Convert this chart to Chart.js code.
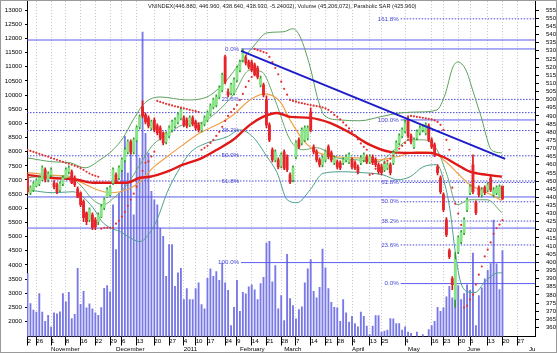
<!DOCTYPE html>
<html><head><meta charset="utf-8">
<script src="https://cdn.jsdelivr.net/npm/chart.js@4/dist/chart.umd.min.js"></script>
<style>html,body{margin:0;padding:0;background:#fff}canvas{display:block}</style>
</head><body>
<canvas id="c" width="557" height="353"></canvas>
<script>
// ---------- DATA ----------
const titleText = 'VNINDEX(446.880, 446.960, 438.640, 438.930, -5.24002), Volume (45,206,072), Parabolic SAR (425.960)';
const tickPos = [0,3,8,13,18,23,28,32,37,43,48,53,57,61,67,71,76,81,86,91,96,101,105,110,116,120,128,137,141,146,150,156,161,166];
const tickLabels = ['2','26','1','8','16','22','29','6','13','20','27','4','10','17','24','9','14','21','28','7','14','21','28','4','13','25','4','16','23','30','6','13','20','27'];
const monthPos = [8,30,53,72,87,110,129,149,170];
const monthLabels = ['November','December','2011','February','March','April','May','June','Ju'];
const priceTicks = []; for (let v = 360; v <= 555; v += 5) priceTicks.push(v);
const volTicks = []; for (let v = 2000; v <= 13000; v += 500) volTicks.push(v);

const opens = [452.6,442.8,444.6,447.1,448.3,450.8,456.9,450.8,453.8,448.9,
447.7,444.6,448.3,452.0,455.7,455.7,452.0,445.2,442.8,437.3,
430.5,426.2,429.3,426.2,425.0,428.1,433.6,440.3,441.6,448.9,
453.8,452.0,456.9,463.0,467.9,474.1,467.9,475.3,483.3,495.5,
490.6,488.8,482.6,487.5,483.9,482.6,479.6,474.1,477.7,481.4,
483.9,486.3,488.8,488.8,487.5,484.5,488.8,486.3,484.5,481.4,
485.1,487.5,491.2,495.5,496.7,501.6,505.9,526.2,504.7,504.1,
504.1,512.1,518.2,524.3,525.6,523.1,523.1,521.3,519.4,509.0,
509.0,499.8,484.5,469.2,463.0,463.0,459.3,467.9,464.9,453.8,
450.8,464.9,475.3,473.4,475.3,476.5,492.4,471.0,467.9,463.0,
460.0,463.0,471.0,467.3,461.2,461.8,461.2,461.2,463.0,461.8,
463.0,461.2,458.7,461.2,463.0,464.9,461.8,464.9,463.0,460.0,
458.7,456.9,458.1,460.0,461.2,467.9,473.4,477.7,480.8,487.5,
477.7,471.0,476.5,479.6,481.4,479.6,483.9,475.3,472.2,458.7,
452.0,441.6,426.2,407.2,390.1,377.2,406.6,412.7,418.3,432.4,
442.8,460.0,436.7,445.9,441.6,445.9,444.6,452.0,441.6,442.8,
440.3,446.88];
const highs = [454.4,447.1,449.5,451.4,453.2,459.3,458.1,455.7,458.1,450.2,
448.9,449.5,453.2,458.1,459.3,456.9,453.2,446.5,443.4,438.5,
431.1,433.6,430.5,427.5,430.5,435.4,439.7,445.9,447.1,458.1,
455.1,459.3,464.2,470.4,475.3,475.3,476.5,483.9,490.6,499.2,
491.8,490.0,487.5,488.8,485.1,483.9,480.2,480.2,483.9,487.5,
488.8,491.8,494.9,490.0,488.8,490.0,490.0,487.5,485.7,485.7,
490.0,493.1,497.4,501.0,502.9,508.4,516.3,527.4,506.6,510.2,
513.3,520.6,524.3,531.1,527.4,524.3,524.3,522.5,520.6,514.5,
510.2,502.3,485.7,470.4,469.2,464.2,467.3,469.2,466.1,455.1,
459.3,474.7,476.5,482.6,483.9,483.9,494.9,472.2,469.2,464.2,
465.5,469.2,472.2,468.5,465.5,463.0,462.4,464.2,466.1,467.3,
464.2,462.4,459.9,465.5,467.3,466.1,466.1,466.1,464.2,461.2,
460.0,462.4,461.2,461.2,468.5,474.7,479.0,482.6,487.5,490.0,
479.0,476.5,481.4,483.9,484.5,485.7,485.1,476.5,473.4,460.0,
453.2,442.8,427.5,408.4,391.3,406.0,416.4,419.5,427.5,439.7,
447.7,466.1,437.9,447.1,445.9,447.1,448.9,453.8,445.9,447.1,
447.7,446.96];
const lows = [442.2,441.6,443.4,446.5,447.1,450.2,449.5,449.5,452.6,445.2,
442.2,443.4,447.1,451.4,454.4,448.3,446.5,439.7,434.2,425.0,
423.2,425.0,420.1,420.1,423.2,427.5,432.4,439.7,440.9,447.7,
448.3,450.8,455.7,461.8,466.7,466.7,466.7,474.1,482.0,488.8,
485.1,482.6,481.4,480.2,478.3,475.3,472.2,472.8,476.5,480.2,
482.6,485.1,487.5,483.3,482.6,483.3,483.9,481.4,480.2,480.2,
483.9,486.3,490.0,494.3,495.5,500.4,504.7,509.6,501.6,502.9,
502.9,510.8,517.0,523.1,521.3,518.8,517.0,514.5,512.7,507.8,
501.6,482.6,474.1,461.8,461.8,457.5,458.1,456.9,455.7,448.3,
449.5,463.6,469.8,472.2,474.1,475.3,480.2,466.7,461.8,458.7,
458.7,461.8,463.6,461.8,460.0,457.5,456.9,460.0,461.8,460.6,
457.5,456.9,454.4,460.0,461.8,460.6,460.6,460.0,458.7,454.4,
453.8,455.7,456.9,453.8,460.0,466.7,472.2,476.5,479.6,476.5,
472.8,469.8,475.3,478.3,480.2,478.3,474.1,469.8,464.9,453.8,
442.2,431.1,415.8,402.3,383.3,372.3,405.4,411.5,417.0,431.1,
441.6,442.2,429.3,440.3,440.3,441.6,443.4,443.4,440.3,441.6,
439.7,438.64];
const closes = [443.4,445.9,448.3,450.2,452.0,458.1,450.8,454.4,456.9,446.5,
443.4,448.3,452.0,456.9,458.1,448.9,447.7,440.3,435.4,427.5,
425.0,432.4,421.3,422.0,429.3,434.2,438.5,444.6,445.9,456.9,
449.5,458.1,463.0,469.2,474.1,467.9,475.3,482.6,489.4,490.0,
486.3,483.9,486.3,481.4,479.6,476.5,473.4,479.0,482.6,486.3,
487.5,490.6,493.7,484.5,483.9,488.8,485.1,482.6,481.4,484.5,
488.8,491.8,496.1,499.8,501.6,507.2,515.1,510.8,502.9,509.0,
512.1,519.4,523.1,529.2,522.5,520.0,518.2,515.1,513.9,512.7,
502.9,484.5,475.3,463.0,467.9,458.7,466.1,458.1,456.9,449.5,
458.1,473.4,471.0,481.4,482.6,482.6,481.4,467.9,463.0,460.0,
464.2,467.9,464.9,463.0,464.2,458.7,458.1,463.0,464.9,466.1,
458.7,458.1,455.7,464.2,466.1,461.8,464.9,461.2,460.0,455.7,
455.1,461.2,460.0,455.1,467.3,473.4,477.7,481.4,485.7,477.7,
474.1,475.3,480.2,482.6,483.3,484.5,475.3,471.0,466.1,455.1,
443.4,432.4,417.0,403.5,386.4,401.7,415.2,418.3,426.2,438.5,
446.5,443.4,430.5,441.6,444.6,442.8,447.7,444.6,444.6,445.9,
446.5,438.93];
const volumes = [3692,2635,2400,2330,2987,2330,2010,2222,1800,2305,
2270,2340,2987,2694,3033,2106,2258,3880,2610,3070,
2482,2623,2446,2305,2222,2493,3176,3270,3047,6125,
4539,6539,7651,8540,7240,8065,5772,8361,7771,12224,
8650,7945,6594,6300,6125,5300,5007,3600,4715,4715,
3247,3717,3880,2775,3164,2775,2775,3164,3365,2600,
2446,3527,3859,3600,3765,3458,4068,3365,3105,1859,
2505,3458,2364,3035,2975,3223,3294,3117,2775,3340,
3562,4770,4830,3400,3973,2446,2916,2035,4374,2810,
2564,2094,2423,2517,3365,3858,4185,3070,2834,3211,
4563,3893,3164,2681,2505,2482,2011,2776,2305,1976,
2187,1930,1812,2330,2187,1835,1540,1835,2211,2211,
1625,1660,1695,2106,2094,1930,1930,1695,1812,1625,
1580,1450,1625,1450,1540,1450,1717,1860,2011,2505,
2364,2482,2870,3247,2834,4150,3270,2776,2987,3294,
3105,4420,1860,2916,3188,3505,3811,4045,5580,4035,
3129,4504];
const sar = [469.2,468.5,467.9,467.3,466.7,466.1,465.5,464.9,464.2,463.6,
463.0,462.4,461.8,461.2,460.6,460.0,459.3,458.7,457.9,456.9,
455.7,454.6,453.8,453.2,452.6,420.7,421.3,421.3,421.3,421.3,
423.8,425.6,428.1,431.1,434.8,438.5,442.2,446.5,451.4,456.3,
461.2,462.0,465.0,468.0,499.2,498.6,498.0,497.4,496.9,496.4,
495.9,495.5,495.1,494.6,494.2,493.7,493.3,492.9,492.4,469.2,
470.4,471.6,473.4,475.3,477.7,480.2,483.3,486.9,490.0,492.4,
494.3,496.7,499.8,503.5,507.8,511.4,513.9,531.1,530.5,529.9,
529.2,528.6,526.2,523.1,519.4,515.5,511.0,506.6,503.0,499.8,
499.2,498.7,498.2,497.8,497.4,497.0,496.7,496.3,496.0,495.7,
495.2,494.6,493.7,492.4,490.6,489.4,487.8,486.0,484.2,482.3,
480.2,478.0,475.6,473.1,471.0,469.2,453.8,454.4,457.5,458.7,
459.9,461.2,462.4,463.6,465.5,467.3,469.8,471.6,473.4,475.3,
490.0,489.7,489.4,489.1,488.8,488.5,488.2,487.8,487.2,486.3,
484.5,481.4,475.3,469.2,445.9,436.1,430.0,423.0,372.3,373.5,
377.2,380.2,386.4,392.5,397.5,403.7,407.8,412.3,417.6,421.0,
423.2,425.96];

// indicator lines read at points [day index, price]
const maLong = [[0,453.8],[7.6,452.0],[16.8,450.8],[22.2,448.9],[28,448.9],[33.7,448.9],[38.1,452.0],[41.5,452.6],[47.3,455.7],[52.7,460.0],[58.5,463.6],[64.2,469.2],[69.7,475.3],[75.4,484.5],[79.8,489.4],[84.6,491.8],[89,489.4],[95.8,488.8],[102.5,485.7],[109.3,479.6],[116.1,472.2],[122.9,467.9],[129.7,467.3],[136.4,467.3],[140.8,464.9],[145.6,460.0],[150,455.7],[155.8,453.8],[160.8,452.6]];
const maMid = [[0,455.1],[7.6,453.8],[13.4,452.6],[17.8,449.5],[23.6,444.6],[28,442.8],[33.7,444.6],[38.1,449.5],[42.5,458.1],[47.3,464.9],[52.7,472.2],[58.5,479.6],[64.2,484.5],[69.7,490.6],[75.4,499.8],[80.5,503.5],[85.6,498.7],[89,487.5],[93.4,475.3],[98.1,467.9],[104.9,464.9],[111.7,464.2],[118.5,463.0],[125.3,464.9],[132,467.9],[137.5,467.3],[142.2,461.2],[145.6,455.1],[150,447.7],[155.8,442.8],[160.8,438.0]];
const maShort = [[0,452.0],[7.6,453.2],[13.4,453.2],[17.8,447.7],[22.2,438.5],[25.6,435.4],[29.7,440.3],[33.7,447.7],[38.1,460.0],[42.5,472.2],[47.3,478.3],[52.7,484.5],[58.5,485.7],[64.2,492.4],[69.7,502.9],[75.4,518.2],[79.5,517.0],[83.9,499.8],[89,475.3],[93.4,469.2],[98.1,470.4],[104.9,464.2],[111.7,463.0],[118.5,461.8],[125.3,470.4],[129.7,475.3],[134.1,475.3],[138.8,469.2],[142.2,453.8],[145.6,435.4],[150,438.5],[155.8,438.5],[160.8,430.5]];
const bbUpper = [[0,464.2],[8.6,461.8],[14.4,461.2],[19.5,458.1],[24.6,463.0],[29,469.2],[32.4,476.5],[35.8,487.5],[39.8,498.0],[44.9,501.6],[54.1,499.8],[60.8,501.6],[67.6,512.1],[72,522.5],[76.4,532.3],[81.2,541.0],[86.6,541.6],[90,543.5],[92.4,538.6],[95.8,520.0],[98.5,499.8],[100.8,490.0],[105.9,487.5],[112.7,487.0],[119.5,489.4],[126.3,491.8],[133.1,492.4],[138.8,493.7],[141.5,502.9],[144.2,520.0],[145.9,523.1],[148.6,518.2],[151,505.3],[152.7,495.5],[154.1,487.5],[155.4,478.3],[156.8,470.4],[158.5,467.9],[160.8,467.3]];
const bbLower = [[0,444.6],[8.6,442.8],[15.4,443.4],[22.2,433.6],[25.3,425.0],[28,421.3],[31.4,418.9],[34.7,415.2],[38.1,412.8],[41.5,418.3],[43.9,426.2],[47.3,442.8],[50.7,455.1],[55.1,467.3],[60.8,473.4],[67.6,477.1],[72,481.4],[76.4,477.1],[81.2,464.9],[84.6,455.1],[88,438.5],[91.4,436.7],[95.8,444.6],[100.2,454.7],[106.9,455.7],[113.7,455.1],[120.5,453.8],[125.3,450.8],[129.7,452.6],[134.1,458.7],[138.8,460.0],[141.5,447.7],[143.2,432.4],[144.9,407.8],[146.6,389.4],[149,382.1],[151.7,381.5],[155.1,388.2],[158.5,393.1],[160.8,393.7]];
const trendLine = [[72.4,529.9],[161.9,463.6]];

// Fibonacci sets and plain horizontal levels
const fibRatios = [0, 0.236, 0.382, 0.5, 0.618, 1];
const fib1 = {high: 531.1, low: 399.9, start: 72.4};
const fib2 = {high: 487.5, low: 387.0, start: 126.5};
const fib2Ratios = [0, 0.236, 0.382, 0.5, 0.618, 1, 1.618];
const solidLevels = [536.6, 440.2, 421.1];
const dottedLevels = [492.0];

// ---------- CHART ----------
const FONT = '"Liberation Sans", Arial, sans-serif';
Chart.defaults.font.family = FONT;
const X_MIN = -0.17, X_MAX = 172.03;
const ptsOf = arr => arr.map(([x, y]) => ({x, y}));
const up = i => closes[i] >= opens[i];

const datasets = [];
// volume
datasets.push({type:'bar', label:'Volume', yAxisID:'yv', order:20, grouped:false, barThickness:1.2,
  backgroundColor:'#7878e6', data: volumes.map((v,i)=>({x:i, y:v}))});
// horizontal level lines
const hLine = (val, start, dotted, order) => ({type:'line', yAxisID:'y', order, data:[{x:start,y:val},{x:X_MAX,y:val}],
  borderColor: dotted ? '#4c4cdc' : '#5c5cf0', borderWidth: 1, borderDash: dotted ? [1.5,1.5] : [], pointRadius:0, tension:0});
const fibLabels = [];
fibRatios.forEach(r => {
  const v = fib1.high - r*(fib1.high - fib1.low);
  const full = (r === 0.382 || r === 0.5 || r === 0.618);
  datasets.push(hLine(v, full ? X_MIN : fib1.start, !(r === 0 || r === 1), 15));
  fibLabels.push({text:(r*100).toFixed(1)+'%', x: fib1.start, y: v});
});
fib2Ratios.forEach(r => {
  const v = fib2.low + r*(fib2.high - fib2.low);
  datasets.push(hLine(v, fib2.start, !(r === 0 || r === 1), 15));
  fibLabels.push({text:(r*100).toFixed(1)+'%', x: fib2.start, y: v});
});
solidLevels.forEach(v => datasets.push(hLine(v, X_MIN, false, 15)));
dottedLevels.forEach(v => datasets.push(hLine(v, X_MIN, true, 15)));
// indicator lines
const ind = (pts, color, w, order) => ({type:'line', yAxisID:'y', order, data: ptsOf(pts), borderColor: color, borderWidth: w,
  pointRadius:0, cubicInterpolationMode:'monotone', fill:false});
datasets.push(ind(bbUpper, '#5fa05f', 1, 8));
datasets.push(ind(bbLower, '#4f9f8f', 1, 8));
datasets.push(ind(maShort, '#6aa86a', 1, 7));
datasets.push(ind(maMid, '#f0a048', 1.2, 6));
datasets.push(ind(maLong, '#e01818', 2.4, 5));
// candles: wicks then bodies
datasets.push({type:'bar', yAxisID:'y', order:4, grouped:false, barThickness:1,
  backgroundColor: closes.map((c,i)=> up(i) ? '#2e9a2e' : '#d81818'),
  data: closes.map((c,i)=>({x:i, y:[lows[i], highs[i]]}))});
datasets.push({type:'bar', yAxisID:'y', order:3, grouped:false, barThickness:2.2,
  backgroundColor: closes.map((c,i)=> up(i) ? '#86e486' : '#e8242a'), borderWidth:0,
  data: closes.map((c,i)=>({x:i, y:[Math.min(opens[i],c), Math.max(opens[i],c)+ (Math.abs(opens[i]-c)<0.6?0.6:0)]}))});
// parabolic SAR
datasets.push({type:'line', yAxisID:'y', order:2, showLine:false, data: sar.map((v,i)=>({x:i,y:v})),
  pointRadius:1.1, pointBackgroundColor:'#e43232', pointBorderWidth:0, pointHoverRadius:0});
// trend line
datasets.push({type:'line', yAxisID:'y', order:1, data: ptsOf(trendLine), borderColor:'#1c1cc8', borderWidth:2, pointRadius:0});

const overlay = {
  id:'overlay',
  afterDatasetsDraw(chart){
    const {ctx} = chart; const x = chart.scales.x, y = chart.scales.y;
    ctx.save();
    ctx.font = '6.2px ' + FONT; ctx.fillStyle = '#4646d6'; ctx.textAlign = 'right'; ctx.textBaseline = 'middle';
    fibLabels.forEach(f => ctx.fillText(f.text, x.getPixelForValue(f.x) - 2, y.getPixelForValue(f.y)));
    ctx.textAlign = 'left'; ctx.fillStyle = '#222'; ctx.font = '5.7px ' + FONT;
    ctx.fillText(titleText, 148, 6);
    ctx.restore();
  },
  afterDraw(chart){
    const {ctx} = chart; const x = chart.scales.x;
    ctx.save();
    ctx.font = '6.2px ' + FONT; ctx.fillStyle = '#000'; ctx.textAlign = 'left'; ctx.textBaseline = 'middle';
    monthLabels.forEach((m, i) => ctx.fillText(m, x.getPixelForValue(monthPos[i]), 349.5));
    ctx.strokeStyle = '#9a9a9a'; ctx.lineWidth = 1;
    ctx.strokeRect(0.5, 0.5, chart.width - 1, chart.height - 1); ctx.restore();
  }
};

const noPad = s => { s.paddingLeft = 0; s.paddingRight = 0; s.paddingTop = 0; s.paddingBottom = 0; };
new Chart(document.getElementById('c'), {
  data: {datasets},
  plugins: [overlay],
  options: {
    responsive:false, animation:false, devicePixelRatio:1,
    layout:{padding:{top:1, left:0, right:0, bottom:0}},
    plugins:{legend:{display:false}, tooltip:{enabled:false}},
    scales:{
      x:{type:'linear', position:'bottom', min:X_MIN, max:X_MAX, offset:false,
        afterBuildTicks: s => { s.ticks = tickPos.map(v=>({value:v})); },
        afterFit: s => { s.height = 16.5; noPad(s); },
        ticks:{autoSkip:false, maxRotation:0, align:'start', padding:-8, color:'#000', font:{size:6.2},
          callback:(v,i)=> tickLabels[i]},
        grid:{offset:false, color:'#c6c6c6', tickLength:9, tickColor:'#000'},
        border:{display:true, color:'#000', dash:[1,2]}},
      y:{type:'linear', position:'right', min:354.5, max:560.5,
        afterBuildTicks: s => { s.ticks = priceTicks.map(v=>({value:v})); },
        afterFit: s => { s.width = 22; noPad(s); },
        ticks:{autoSkip:false, padding:7, color:'#000', font:{size:6}, callback:v=>String(v)},
        grid:{drawOnChartArea:false, tickLength:4, tickColor:'#000'},
        border:{display:true, color:'#000'}},
      yv:{type:'linear', position:'left', min:1471, max:13317,
        afterBuildTicks: s => { s.ticks = volTicks.map(v=>({value:v})); },
        afterFit: s => { s.width = 27; noPad(s); },
        ticks:{autoSkip:false, padding:3, color:'#000', font:{size:6.2}, callback:v=>String(v)},
        grid:{drawOnChartArea:false, tickLength:2, tickColor:'#000'},
        border:{display:true, color:'#000'}}
    }
  }
});
</script>
</body></html>
